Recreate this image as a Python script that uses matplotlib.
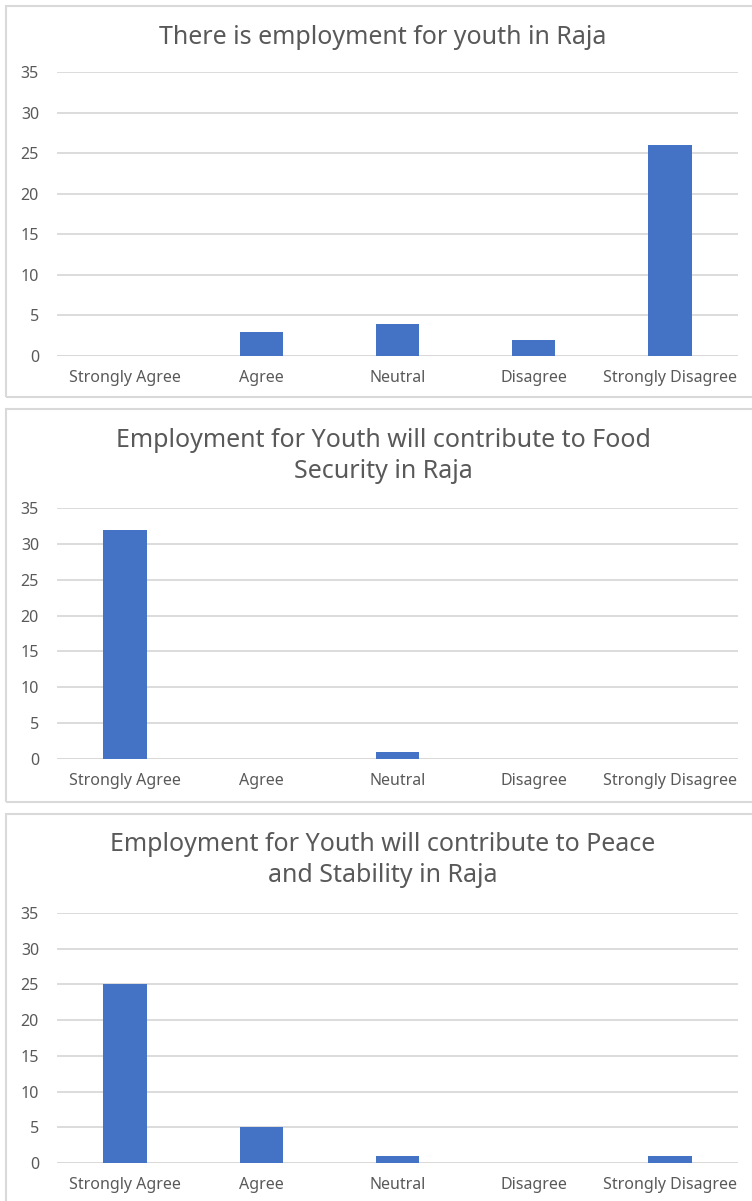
import matplotlib.pyplot as plt
from matplotlib.patches import Rectangle

categories = ["Strongly Agree", "Agree", "Neutral", "Disagree", "Strongly Disagree"]

titles = [
    "There is employment for youth in Raja",
    "Employment for Youth will contribute to Food\nSecurity in Raja",
    "Employment for Youth will contribute to Peace\nand Stability in Raja",
]
employment_now = [0, 3, 4, 2, 26]
food_security = [32, 0, 1, 0, 0]
peace_stability = [25, 5, 1, 0, 1]
series = [employment_now, food_security, peace_stability]

y_ticks = [0, 5, 10, 15, 20, 25, 30, 35]

W, H = 752, 1201
BAR = "#4472C4"
TXT = "#595959"
GRID = "#D9D9D9"

plt.rcParams["font.family"] = ["Noto Sans", "DejaVu Sans"]

fig = plt.figure(figsize=(W / 100, H / 100), dpi=100)


def frac(x0, y0, x1, y1):
    # pixel box (top-left origin) -> figure fraction rect
    return [x0 / W, 1 - y1 / H, (x1 - x0) / W, (y1 - y0) / H]


# chart frames: (top, bottom) of frame, (top, bottom) of plot area, title centre
layout = [
    ((5.5, 397), (72, 356), 37),
    ((409, 802), (508, 759), 456),
    ((814, 1215), (913, 1163), 860),
]

for (ft, fb), _, _ in layout:
    fig.patches.append(Rectangle((5.5 / W, 1 - fb / H), (770 - 5.5) / W, (fb - ft) / H,
                                 transform=fig.transFigure, fill=False,
                                 edgecolor=GRID, linewidth=1.5))

for i, vals in enumerate(series):
    (ft, fb), (pt, pb), ty = layout[i]
    ax = fig.add_axes(frac(57, pt, 738, pb))
    ax.bar(range(len(categories)), vals, width=0.32, color=BAR, zorder=3)
    ax.set_xlim(-0.5, len(categories) - 0.5)
    ax.set_ylim(0, 35)
    ax.set_yticks(y_ticks)
    ax.set_xticks(range(len(categories)))
    ax.set_xticklabels(categories)
    ax.yaxis.grid(True, color=GRID, linewidth=1.3, zorder=0)
    ax.axhline(0, color=GRID, linewidth=1.3, zorder=1)
    for s in ax.spines.values():
        s.set_visible(False)
    ax.tick_params(axis="both", length=0, labelsize=11.5, labelcolor=TXT)
    ax.tick_params(axis="x", pad=10)
    ax.tick_params(axis="y", pad=13)
    fig.text(383 / W, 1 - ty / H, titles[i], ha="center", va="center",
             fontsize=18, color=TXT, linespacing=1.3)

fig.savefig("out.png", dpi=100)
